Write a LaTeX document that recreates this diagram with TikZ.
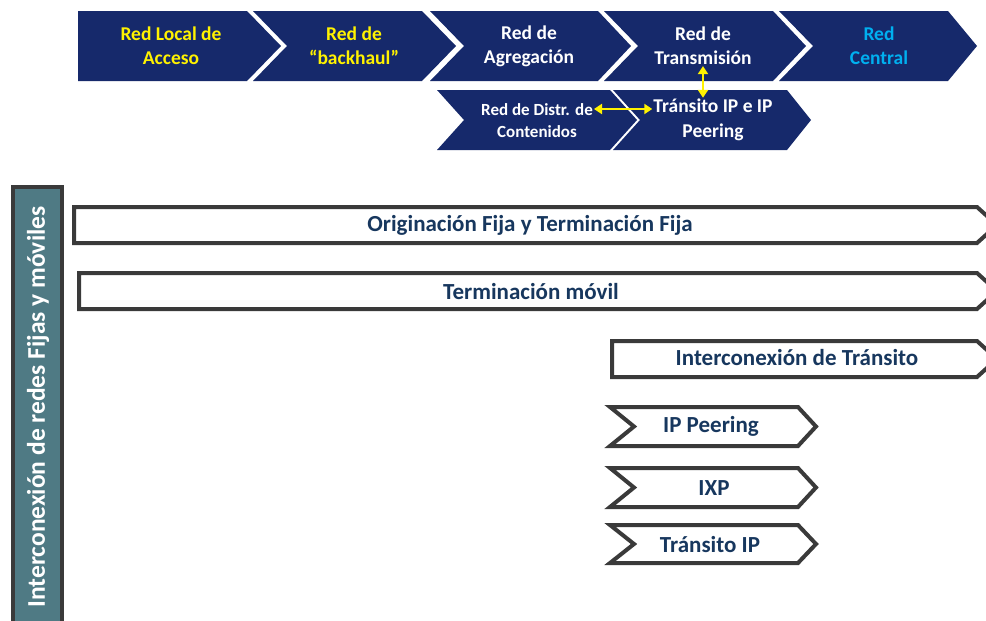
\documentclass[tikz,border=0pt]{standalone}
\usepackage{fontspec}
\setmainfont{Carlito}
\usetikzlibrary{arrows.meta}
\definecolor{navy}{RGB}{22,41,107}
\definecolor{cyantxt}{RGB}{0,176,240}
\definecolor{bartxt}{RGB}{23,55,94}
\definecolor{bordergray}{RGB}{58,58,58}
\definecolor{tealbar}{RGB}{79,122,132}
\def\chevron[#1](#2,#3)(#4,#5)#6#7{\draw[#1] (#2,#3) -- ({#4-#7},#3) -- (#4,{(#3+#5)/2}) -- ({#4-#7},#5) -- (#2,#5) -- ({#2+#6},{(#3+#5)/2}) -- cycle;}

\begin{document}
\begin{tikzpicture}[x=1pt, y=-1pt,
		navychev/.style={fill=navy, draw=none},
		outline/.style={draw=bordergray, line width=4pt, fill=white, line join=miter},
		toptext/.style={font=\fontsize{19.5}{24}\selectfont\bfseries, align=center, inner sep=1pt},
		subtext/.style={font=\fontsize{17}{22}\selectfont\bfseries, align=center, inner sep=1pt, text=white},
		bartext/.style={font=\fontsize{23}{27}\selectfont\bfseries, text=bartxt, inner sep=1pt},
		yarrow/.style={draw=yellow, line width=2.5pt, <->, >={Triangle[length=8pt,width=10pt]}}]
			%%%%% START %%%%%
			\useasboundingbox (0,0) rectangle (986,621);
			\clip (0,0) rectangle (986,621);
			
			\chevron[navychev](78,11)(281,81){0}{34}
			\chevron[navychev](253,11)(456,81){34}{34}
			\chevron[navychev](430,11)(631,81){34}{33}
			\chevron[navychev](604,11)(806,81){34}{33}
			\chevron[navychev](779,11)(977,81){34}{29}
			
			\chevron[navychev](437,90)(637,150){27}{27}
			\chevron[navychev](613,90)(811,150){27}{24}
			
			\node[toptext, text=yellow] (acceso) at (171,46) {Red Local de\\Acceso};
			\node[toptext, text=yellow] (backhaul) at (354,46) {Red de\\“backhaul”};
			\node[toptext, text=white] (agreg) at (529,46) {Red de\\Agregación};
			\node[toptext, text=white] (transm) at (703,46) {Red de\\Transmisión};
			\node[toptext, text=cyantxt] (central) at (879,46) {Red\\Central};
			
			\node[subtext] (distr) at (537,121) {Red de Distr. de\\Contenidos};
			\node[subtext, font=\fontsize{19.5}{25}\selectfont\bfseries] (tip) at (713,120) {Tránsito IP e IP\\Peering};
			
			\draw[yarrow] (transm.south) -- (transm.south |- tip.north);
			\draw[yarrow] ([yshift=12pt]distr.east) -- ([yshift=12pt]distr.east -| tip.west);
			
			\draw[line width=4pt, draw=bordergray, fill=tealbar] (13,187) rectangle (62,640);
			\node[font=\fontsize{25.5}{30}\selectfont\bfseries, text=white, rotate=90] (vlabel) at (38,407) {Interconexión de redes Fijas y móviles};
			
			\chevron[outline](74,207)(997,243){0}{20}
			\chevron[outline](79,273)(997,309){0}{20}
			\chevron[outline](612,341)(997,377){0}{20}
			
			\chevron[outline](610,407)(816,446){24}{18}
			\chevron[outline](610,468)(816,507){24}{18}
			\chevron[outline](610,525)(816,563){24}{18}
			
			\node[bartext] (fija) at (530,225) {Originación Fija y Terminación Fija};
			\node[bartext] (movil) at (531,292) {Terminación móvil};
			\node[bartext] (transito) at (797,358) {Interconexión de Tránsito};
			\node[bartext] (peering) at (711,426) {IP Peering};
			\node[bartext] (ixp) at (714,488) {IXP};
			\node[bartext] (tipip) at (710,545) {Tránsito IP};
			
			%%%%% END %%%%%
\end{tikzpicture}
\end{document}
